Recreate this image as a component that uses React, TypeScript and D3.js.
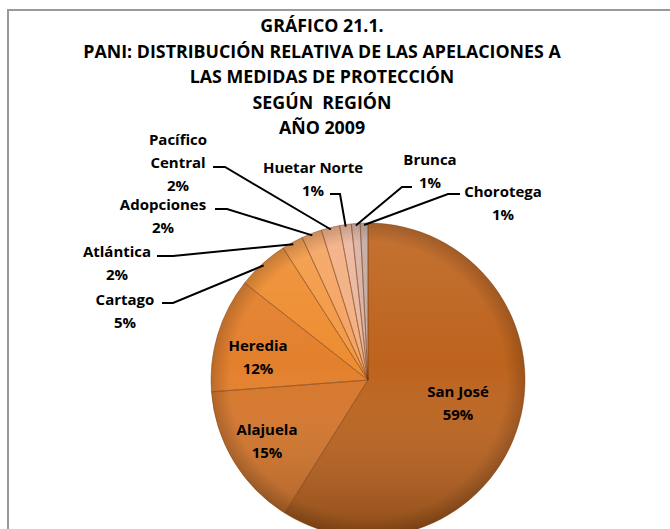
import * as d3 from 'd3'

const W = 670
const H = 529

const TITLE = [
  'GRÁFICO 21.1.',
  'PANI: DISTRIBUCIÓN RELATIVA DE LAS APELACIONES A',
  'LAS MEDIDAS DE PROTECCIÓN',
  'SEGÚN  REGIÓN',
  'AÑO 2009',
]

// regions, clockwise from 12 o'clock
const regions = ['San José', 'Alajuela', 'Heredia', 'Cartago', 'Atlántica', 'Adopciones', 'Pacífico Central', 'Huetar Norte', 'Brunca', 'Chorotega']
const shares = [58.9, 14.9, 11.8, 5.3, 2.2, 2.1, 1.9, 1.2, 0.9, 0.8]
const colors = ['#bd631d', '#d7762a', '#e3802d', '#ee8d31', '#f39a45', '#f5a462', '#f3af82', '#ebb69e', '#d9b1a5', '#c3aaa2']

// label layout: inside labels have only a text position, outside ones carry the leader elbow
const labelLines: Record<string, string[]> = {
  'Pacífico Central': ['Pacífico', 'Central'],
}
const labelPos: Record<string, { x: number; y: number; elbow?: [number, number]; start?: [number, number] }> = {
  'San José': { x: 458, y: 392 },
  'Alajuela': { x: 267, y: 430 },
  'Heredia': { x: 258, y: 346 },
  'Cartago': { x: 125, y: 300, start: [162, 303], elbow: [173, 303] },
  'Atlántica': { x: 117, y: 252, start: [157, 256], elbow: [173, 256] },
  'Adopciones': { x: 163, y: 205, start: [215, 209], elbow: [227, 209] },
  'Pacífico Central': { x: 178, y: 140, start: [213, 167], elbow: [225, 167] },
  'Huetar Norte': { x: 313, y: 168, start: [330, 194], elbow: [340, 194] },
  'Brunca': { x: 430, y: 160, start: [412, 187], elbow: [402, 187] },
  'Chorotega': { x: 503, y: 192, start: [460, 194], elbow: [448, 194] },
}

const CX = 368
const CY = 380
const R = 157
const FONT = '"Open Sans", Lato, sans-serif'

export default function App() {
  const pie = d3.pie<number>().sort(null).value(d => d)
  const arcs = pie(shares)
  const arc = d3.arc<d3.PieArcDatum<number>>().innerRadius(0).outerRadius(R)
  const total = d3.sum(shares)
  const pct = (v: number) => `${Math.round((v / total) * 100)}%`

  const edgePoint = (a: d3.PieArcDatum<number>, r: number): [number, number] => {
    const m = (a.startAngle + a.endAngle) / 2
    return [CX + r * Math.sin(m), CY - r * Math.cos(m)]
  }

  return (
    <svg width={W} height={H} style={{ position: 'absolute', left: 0, top: 0, background: '#fff' }}>
      <defs>
        <linearGradient id="shade" x1="0" y1="0" x2="0" y2="1">
          <stop offset="0%" stopColor="#fff" stopOpacity={0.1} />
          <stop offset="45%" stopColor="#fff" stopOpacity={0} />
          <stop offset="100%" stopColor="#000" stopOpacity={0.26} />
        </linearGradient>
        <radialGradient id="rim" cx="50%" cy="50%" r="50%">
          <stop offset="88%" stopColor="#000" stopOpacity={0} />
          <stop offset="100%" stopColor="#000" stopOpacity={0.18} />
        </radialGradient>
        {arcs.map((a, i) => (
          <clipPath id={`clip${i}`} key={i}>
            <path d={arc(a) ?? ''} transform={`translate(${CX},${CY})`} />
          </clipPath>
        ))}
      </defs>

      {/* frame */}
      <rect x={8} y={10} width={W + 10} height={H + 10} fill="none" stroke="#999" strokeWidth={2} />

      {/* title */}
      <g fontFamily={FONT} fontWeight={700} fontSize={17.8} fill="#000" textAnchor="middle">
        {TITLE.map((t, i) => (
          <text key={i} x={322} y={32 + i * 25.5} style={{ whiteSpace: 'pre' }}>{t}</text>
        ))}
      </g>

      {/* slices */}
      <g>
        {arcs.map((a, i) => (
          <g key={i}>
            <path d={arc(a) ?? ''} transform={`translate(${CX},${CY})`} fill={colors[i]} />
            <path
              d={arc(a) ?? ''}
              transform={`translate(${CX},${CY})`}
              fill="none"
              stroke="#fff"
              strokeOpacity={0.25}
              strokeWidth={5}
              clipPath={`url(#clip${i})`}
            />
          </g>
        ))}
        <circle cx={CX} cy={CY} r={R} fill="url(#shade)" />
        <circle cx={CX} cy={CY} r={R} fill="url(#rim)" />
        {arcs.map((a, i) => (
          <path
            key={i}
            d={arc(a) ?? ''}
            transform={`translate(${CX},${CY})`}
            fill="none"
            stroke="#7a3f12"
            strokeOpacity={0.55}
            strokeWidth={0.8}
          />
        ))}
      </g>

      {/* leaders */}
      <g stroke="#000" strokeWidth={2} fill="none">
        {arcs.map((a, i) => {
          const p = labelPos[regions[i]]
          if (!p.elbow || !p.start) return null
          const e = edgePoint(a, R - 2)
          return <polyline key={i} points={`${p.start[0]},${p.start[1]} ${p.elbow[0]},${p.elbow[1]} ${e[0]},${e[1]}`} />
        })}
      </g>

      {/* labels */}
      <g fontFamily={FONT} fontWeight={700} fontSize={15} fill="#000" textAnchor="middle">
        {arcs.map((a, i) => {
          const name = regions[i]
          const p = labelPos[name]
          const lines = [...(labelLines[name] ?? [name]), pct(a.data)]
          return (
            <text key={i} x={p.x} y={p.y + 5}>
              {lines.map((l, j) => (
                <tspan key={j} x={p.x} dy={j === 0 ? 0 : 23}>{l}</tspan>
              ))}
            </text>
          )
        })}
      </g>
    </svg>
  )
}
